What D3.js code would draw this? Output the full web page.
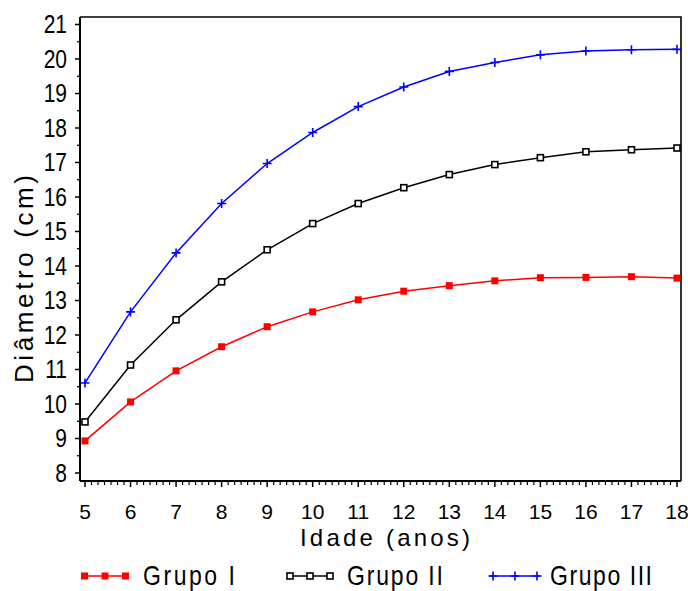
<!DOCTYPE html>
<html>
<head>
<meta charset="utf-8">
<script src="https://cdn.jsdelivr.net/npm/d3@7"></script>
<style>
  html, body { margin: 0; padding: 0; background: #ffffff; }
  svg { display: block; font-family: Arial, "Liberation Sans", sans-serif; }
</style>
</head>
<body>
<svg id="chart" width="688" height="591"></svg>
<script>
// ---- data ----
const idades = [5, 6, 7, 8, 9, 10, 11, 12, 13, 14, 15, 16, 17, 18];
const grupoI   = [8.93, 10.06, 10.96, 11.66, 12.24, 12.67, 13.02, 13.27, 13.43, 13.57, 13.66, 13.67, 13.69, 13.65];
const grupoII  = [9.48, 11.13, 12.44, 13.54, 14.47, 15.23, 15.81, 16.27, 16.65, 16.94, 17.14, 17.31, 17.37, 17.42];
const grupoIII = [10.61, 12.67, 14.38, 15.81, 16.97, 17.87, 18.62, 19.19, 19.64, 19.90, 20.12, 20.23, 20.27, 20.28];
const seriesNames = ["Grupo I", "Grupo II", "Grupo III"];
const yTicks = [8, 9, 10, 11, 12, 13, 14, 15, 16, 17, 18, 19, 20, 21];
const xTicks = idades;
const xTitle = "Idade (anos)";
const yTitle = "Diâmetro (cm)";

// ---- layout ----
const svg = d3.select("#chart");
const frame = { left: 80, right: 681, top: 17, bottom: 481 };
const x = d3.scaleLinear().domain([5, 18]).range([85, 677]);
const y = d3.scaleLinear().domain([8, 21]).range([473, 24.5]);

const colors = ["#ff0000", "#000000", "#0000ff"];
const markers = ["filledSquare", "openSquare", "plus"];
const allSeries = [grupoI, grupoII, grupoIII];

// frame (top and right)
svg.append("path")
  .attr("d", `M${frame.left},${frame.top}H${frame.right}V${frame.bottom}`)
  .attr("fill", "none").attr("stroke", "#000").attr("stroke-width", 1.6);

// left axis line
svg.append("line").attr("x1", frame.left).attr("x2", frame.left)
  .attr("y1", frame.top).attr("y2", frame.bottom)
  .attr("stroke", "#000").attr("stroke-width", 2);
// bottom axis line
svg.append("line").attr("x1", frame.left).attr("x2", frame.right)
  .attr("y1", frame.bottom).attr("y2", frame.bottom)
  .attr("stroke", "#000").attr("stroke-width", 2);

// y ticks (major + minor)
const yMinor = d3.range(8, 21.01, 0.5).filter(v => !Number.isInteger(v));
svg.append("g").selectAll("line.ymaj").data(yTicks).join("line")
  .attr("x1", frame.left - 5).attr("x2", frame.left)
  .attr("y1", d => y(d)).attr("y2", d => y(d))
  .attr("stroke", "#000").attr("stroke-width", 1.5);
svg.append("g").selectAll("line.ymin").data(yMinor).join("line")
  .attr("x1", frame.left - 3).attr("x2", frame.left)
  .attr("y1", d => y(d)).attr("y2", d => y(d))
  .attr("stroke", "#000").attr("stroke-width", 1.3);
svg.append("g").selectAll("text").data(yTicks).join("text")
  .attr("transform", d => `translate(67,${y(d) + 8.5}) scale(1,1.2)`)
  .attr("text-anchor", "end").attr("font-size", 21).attr("fill", "#000")
  .text(d => d);

// x ticks (major + minor: 7 intervals per unit)
const xMinor = [];
for (let v = 5; v < 18; v++) for (let k = 1; k < 7; k++) xMinor.push(v + k / 7);
svg.append("g").selectAll("line").data(xTicks).join("line")
  .attr("x1", d => x(d)).attr("x2", d => x(d))
  .attr("y1", frame.bottom).attr("y2", frame.bottom + 6)
  .attr("stroke", "#000").attr("stroke-width", 1.5);
svg.append("g").selectAll("line").data(xMinor).join("line")
  .attr("x1", d => x(d)).attr("x2", d => x(d))
  .attr("y1", frame.bottom).attr("y2", frame.bottom + 4)
  .attr("stroke", "#000").attr("stroke-width", 1.2);
svg.append("g").selectAll("text").data(xTicks).join("text")
  .attr("x", d => x(d)).attr("y", 519)
  .attr("text-anchor", "middle").attr("font-size", 21).attr("fill", "#000")
  .text(d => d);

// axis titles
svg.append("text")
  .attr("x", 300).attr("y", 546)
  .attr("font-size", 24).attr("fill", "#000")
  .attr("textLength", 170).attr("lengthAdjust", "spacing")
  .text(xTitle);
svg.append("text")
  .attr("transform", "translate(33,383) rotate(-90)")
  .attr("font-size", 26).attr("fill", "#000")
  .attr("textLength", 208).attr("lengthAdjust", "spacing")
  .text(yTitle);

// marker drawer
function drawMarker(g, type, color, cx, cy) {
  if (type === "filledSquare") {
    g.append("rect").attr("x", cx - 3.5).attr("y", cy - 3.5)
      .attr("width", 7).attr("height", 7).attr("fill", color);
  } else if (type === "openSquare") {
    g.append("rect").attr("x", cx - 3).attr("y", cy - 3)
      .attr("width", 6).attr("height", 6).attr("fill", "#fff")
      .attr("stroke", color).attr("stroke-width", 1.6);
  } else {
    g.append("path").attr("d", `M${cx - 4.5},${cy}H${cx + 4.5}M${cx},${cy - 4.5}V${cy + 4.5}`)
      .attr("stroke", color).attr("stroke-width", 1.6);
  }
}

// series lines + markers
const line = d3.line().x((d, i) => x(idades[i])).y(d => y(d));
allSeries.forEach((vals, si) => {
  const g = svg.append("g");
  g.append("path").datum(vals).attr("d", line)
    .attr("fill", "none").attr("stroke", colors[si]).attr("stroke-width", 1.5);
  vals.forEach((v, i) => drawMarker(g, markers[si], colors[si], x(idades[i]), y(v)));
});

// legend
const legendItems = [
  { x0: 81, x1: 129, tx: 143, tw: 92 },
  { x0: 287, x1: 333, tx: 347, tw: 96 },
  { x0: 490, x1: 540, tx: 550, tw: 102 }
];
const legY = 576;
legendItems.forEach((it, si) => {
  const g = svg.append("g");
  g.append("line").attr("x1", it.x0).attr("x2", it.x1)
    .attr("y1", legY).attr("y2", legY)
    .attr("stroke", colors[si]).attr("stroke-width", 1.5);
  const inset = si === 0 ? 3.5 : 3;
  const xs = [it.x0 + inset, (it.x0 + it.x1) / 2, it.x1 - inset];
  xs.forEach(px => drawMarker(g, markers[si], colors[si], px, legY));
  g.append("text")
    .attr("transform", `translate(${it.tx},585) scale(1,1.2)`)
    .attr("font-size", 23).attr("fill", "#000")
    .attr("textLength", it.tw).attr("lengthAdjust", "spacing")
    .text(seriesNames[si]);
});
</script>
</body>
</html>
